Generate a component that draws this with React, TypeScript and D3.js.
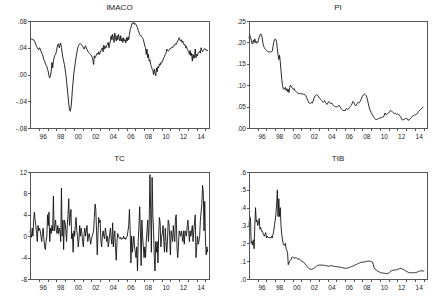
import React from "react";
import * as d3 from "d3";

// Monthly observations starting 1995M1
const startYear = 1995;
const yearTicks = d3.range(1996, 2016);
const labelYears = [1996, 1998, 2000, 2002, 2004, 2006, 2008, 2010, 2012, 2014];
const labelTexts = ["96", "98", "00", "02", "04", "06", "08", "10", "12", "14"];

const imaco = [
  0.053, 0.054, 0.053, 0.052, 0.053, 0.052, 0.050, 0.048, 0.045, 0.042, 0.040, 0.038,
  0.037, 0.040, 0.038, 0.035, 0.032, 0.030, 0.026, 0.022, 0.020, 0.016, 0.014, 0.012,
  0.008, 0.004, -0.002, -0.005, -0.002, 0.005, 0.018, 0.010, 0.020, 0.025, 0.029, 0.030,
  0.034, 0.040, 0.045, 0.046, 0.040, 0.044, 0.047, 0.040, 0.032, 0.025, 0.020, 0.015,
  0.008, 0.000, -0.010, -0.020, -0.032, -0.044, -0.052, -0.055, -0.050, -0.038, -0.022, -0.010,
  0.002, 0.010, 0.018, 0.026, 0.032, 0.038, 0.042, 0.045, 0.046, 0.046, 0.045, 0.044,
  0.042, 0.040, 0.038, 0.041, 0.043, 0.040, 0.037, 0.035, 0.033, 0.032, 0.031, 0.030,
  0.028, 0.026, 0.022, 0.015, 0.028, 0.025, 0.027, 0.030, 0.032, 0.030, 0.034, 0.030,
  0.033, 0.036, 0.038, 0.040, 0.034, 0.044, 0.038, 0.042, 0.040, 0.044, 0.045, 0.048,
  0.040, 0.046, 0.050, 0.058, 0.052, 0.060, 0.054, 0.048, 0.062, 0.055, 0.050, 0.058,
  0.052, 0.060, 0.055, 0.050, 0.058, 0.050, 0.054, 0.048, 0.055, 0.050, 0.052, 0.047,
  0.055, 0.050, 0.056, 0.052, 0.060, 0.067, 0.070, 0.074, 0.077, 0.076, 0.078, 0.075,
  0.076, 0.075, 0.072, 0.070, 0.066, 0.063, 0.060, 0.058, 0.058, 0.056, 0.055, 0.052,
  0.048, 0.042, 0.040, 0.030, 0.038, 0.025, 0.030, 0.020, 0.022, 0.015, 0.012, 0.008,
  0.006, 0.000, 0.008, 0.002, -0.002, 0.010, 0.004, 0.012, 0.010, 0.016, 0.014, 0.018,
  0.017, 0.020, 0.022, 0.025, 0.027, 0.030, 0.032, 0.038, 0.036, 0.035, 0.036, 0.038,
  0.038, 0.040, 0.041, 0.040, 0.042, 0.044, 0.044, 0.046, 0.045, 0.048, 0.050, 0.052,
  0.055, 0.052, 0.050, 0.052, 0.048, 0.050, 0.046, 0.044, 0.045, 0.040, 0.042, 0.038,
  0.036, 0.034, 0.030, 0.036, 0.028, 0.032, 0.020, 0.030, 0.024, 0.026, 0.038, 0.025,
  0.030, 0.028, 0.032, 0.033, 0.035, 0.032, 0.040, 0.036, 0.034, 0.036, 0.038, 0.039,
  0.038, 0.036, 0.037, 0.035,
];

const pi = [
  0.210, 0.218, 0.212, 0.205, 0.198, 0.196, 0.205, 0.200, 0.208, 0.200, 0.198, 0.202,
  0.200, 0.205, 0.212, 0.216, 0.220, 0.218, 0.212, 0.200, 0.192, 0.188, 0.185, 0.183,
  0.181, 0.180, 0.179, 0.178, 0.178, 0.177, 0.178, 0.178, 0.180, 0.190, 0.200, 0.206,
  0.208, 0.207, 0.200, 0.185, 0.170, 0.160, 0.170, 0.155, 0.135, 0.115, 0.100, 0.092,
  0.090, 0.093, 0.095, 0.088, 0.092, 0.085, 0.090, 0.083, 0.095, 0.100, 0.098, 0.095,
  0.093, 0.090, 0.092, 0.088, 0.086, 0.085, 0.083, 0.082, 0.080, 0.081, 0.080, 0.080,
  0.080, 0.079, 0.080, 0.079, 0.078, 0.078, 0.076, 0.072, 0.068, 0.064, 0.060, 0.058,
  0.057, 0.058, 0.060, 0.058, 0.062, 0.068, 0.072, 0.075, 0.076, 0.078, 0.077, 0.075,
  0.072, 0.070, 0.068, 0.066, 0.064, 0.062, 0.060, 0.062, 0.064, 0.060, 0.058, 0.055,
  0.056, 0.060, 0.062, 0.060, 0.058, 0.056, 0.058, 0.055, 0.053, 0.052, 0.050, 0.050,
  0.050, 0.049, 0.050, 0.052, 0.053, 0.050, 0.047, 0.045, 0.043, 0.042, 0.040, 0.042,
  0.040, 0.044, 0.046, 0.044, 0.043, 0.045, 0.048, 0.050, 0.052, 0.055, 0.058, 0.062,
  0.060, 0.056, 0.053, 0.052, 0.055, 0.058, 0.060, 0.058, 0.060, 0.063, 0.066, 0.070,
  0.074, 0.077, 0.078, 0.079, 0.078, 0.076, 0.072, 0.065, 0.058, 0.050, 0.044, 0.040,
  0.036, 0.033, 0.030, 0.027, 0.024, 0.022, 0.020, 0.020, 0.020, 0.021, 0.022, 0.023,
  0.023, 0.024, 0.024, 0.025, 0.025, 0.026, 0.030, 0.035, 0.032, 0.031, 0.033, 0.034,
  0.035, 0.037, 0.040, 0.041, 0.040, 0.038, 0.036, 0.035, 0.034, 0.035, 0.033, 0.032,
  0.033, 0.032, 0.031, 0.030, 0.027, 0.024, 0.020, 0.019, 0.020, 0.019, 0.021, 0.022,
  0.023, 0.022, 0.021, 0.018, 0.019, 0.020, 0.022, 0.024, 0.026, 0.028, 0.029, 0.030,
  0.030, 0.031, 0.032, 0.033, 0.035, 0.038, 0.040, 0.042, 0.043, 0.045, 0.047, 0.048,
  0.049,
];

const tc = [
  1.0, 0.3, -0.2, 1.5, 0.0, 3.0, 4.5, 3.0, 2.0, 0.5, -1.0, 2.0,
  1.0, 1.5, 1.0, 0.0, -1.0, 0.5, 1.5, -0.5, -2.0, -2.5, -1.0, 0.0,
  4.0, 2.0, 4.5, -1.0, 1.5, 0.5, 2.0, 1.0, 7.5, 1.0, 2.0, 3.0,
  1.0, 0.5, 2.0, 0.5, 1.5, 1.0, -1.0, 9.0, 0.0, 3.0, -2.5, 3.0,
  2.5, 1.0, -1.0, 2.0, 4.0, 7.0, 2.0, 3.5, 5.0, -0.5, 0.5, -3.0,
  1.0, 0.0, 2.0, 3.5, 1.0, 0.0, -2.0, -0.5, 2.0, 0.0, 1.5, 0.5,
  -1.0, -2.0, 0.5, 1.5, 0.0, 1.0, 2.0, -1.0, 0.0, 0.5, -0.5, -1.5,
  -0.5, 0.0, 0.5, 1.0, 3.5, 6.0, 5.0, 1.0, -3.5, 0.5, 3.5, 2.5,
  3.0, -1.0, -2.0, 0.0, 1.0, 0.0, -0.5, 1.5, 0.5, -1.0, 0.0, -2.0,
  -1.0, 0.5, 1.5, -0.5, -1.5, 2.5, -2.0, 0.0, 1.0, -2.5, -4.5, -1.0,
  0.5, 0.0, -0.3, -0.5, -0.2, -0.6, -0.4, -0.5, 0.0, -0.5, -0.3, -0.6,
  -0.2, 0.0, 1.0, 2.0, 5.0, 1.0, -5.0, 0.0, -3.0, -1.5, 0.0, -2.0,
  -3.0, -4.0, -2.0, -6.5, -1.0, 2.0, 5.5, 1.0, -5.5, 3.0, 0.0, -2.0,
  -4.0, -2.0, -4.0, -1.0, 1.0, 3.0, -1.0, 2.0, 11.5, 5.0, -3.0, 11.0,
  4.0, 1.0, -4.0, -6.5, -1.0, -3.0, -1.0, -5.0, 0.0, 3.5, 2.5, -2.0,
  0.0, 0.5, 2.0, -1.0, -3.0, 1.5, -1.0, -3.0, -1.0, 3.0, 2.5, 0.0,
  -3.5, 1.0, 0.0, -1.0, 2.0, 0.0, -1.0, 3.5, 4.0, -2.0, -4.0, -2.0,
  1.0, 0.5, 0.0, 1.0, 0.0, -1.0, 1.0, -1.5, 1.0, 0.5, 0.0, 2.0,
  3.0, 1.0, -1.0, 1.0, 0.0, 1.0, 2.0, -1.0, 1.0, 2.5, 4.0, -4.0,
  -2.0, 0.0, -1.5, -1.0, 0.0, 3.0, 4.5, 6.0, 9.5, 8.0, 1.0, 6.5,
  -1.0, -3.5, -2.0, -3.0,
];

const tib = [
  0.30, 0.35, 0.34, 0.20, 0.21, 0.19, 0.22, 0.17, 0.30, 0.40, 0.32, 0.33,
  0.30, 0.31, 0.34, 0.28, 0.29, 0.27, 0.27, 0.26, 0.25, 0.24, 0.25, 0.26,
  0.23, 0.24, 0.235, 0.23, 0.235, 0.23, 0.23, 0.24, 0.23, 0.25, 0.27, 0.30,
  0.33, 0.36, 0.42, 0.50, 0.35, 0.45, 0.35, 0.40, 0.30, 0.25, 0.22, 0.20,
  0.19, 0.19, 0.20, 0.17, 0.16, 0.15, 0.08, 0.09, 0.10, 0.105, 0.11, 0.12,
  0.125, 0.12, 0.115, 0.118, 0.12, 0.12, 0.115, 0.11, 0.112, 0.115, 0.11, 0.105,
  0.10, 0.10, 0.098, 0.095, 0.09, 0.085, 0.08, 0.075, 0.07, 0.065, 0.06, 0.058,
  0.055, 0.055, 0.054, 0.056, 0.058, 0.06, 0.062, 0.066, 0.07, 0.073, 0.075, 0.077,
  0.078, 0.078, 0.078, 0.078, 0.077, 0.078, 0.078, 0.077, 0.076, 0.075, 0.075, 0.074,
  0.073, 0.072, 0.072, 0.073, 0.074, 0.075, 0.074, 0.073, 0.072, 0.071, 0.070, 0.070,
  0.070, 0.069, 0.068, 0.068, 0.067, 0.066, 0.066, 0.065, 0.064, 0.063, 0.062, 0.061,
  0.060, 0.060, 0.060, 0.061, 0.062, 0.063, 0.064, 0.066, 0.068, 0.070, 0.072, 0.073,
  0.075, 0.077, 0.078, 0.080, 0.082, 0.084, 0.086, 0.088, 0.090, 0.092, 0.093, 0.094,
  0.094, 0.095, 0.095, 0.096, 0.097, 0.098, 0.099, 0.100, 0.100, 0.100, 0.100, 0.099,
  0.098, 0.096, 0.094, 0.080, 0.065, 0.058, 0.052, 0.050, 0.047, 0.044, 0.042, 0.040,
  0.038, 0.036, 0.035, 0.034, 0.033, 0.033, 0.032, 0.032, 0.031, 0.031, 0.031, 0.031,
  0.033, 0.036, 0.040, 0.044, 0.046, 0.048, 0.049, 0.050, 0.050, 0.050, 0.051, 0.052,
  0.054, 0.055, 0.056, 0.058, 0.060, 0.059, 0.058, 0.056, 0.055, 0.052, 0.050, 0.047,
  0.045, 0.042, 0.040, 0.038, 0.036, 0.035, 0.035, 0.035, 0.035, 0.035, 0.035, 0.035,
  0.035, 0.036, 0.037, 0.038, 0.040, 0.042, 0.044, 0.045, 0.046, 0.046, 0.045, 0.045,
  0.045, 0.046,
];

const imacoTicks = [0.08, 0.04, 0.0, -0.04, -0.08];
const imacoLabels = [".08", ".04", ".00", "-.04", "-.08"];
const piTicks = [0.25, 0.2, 0.15, 0.1, 0.05, 0.0];
const piLabels = [".25", ".20", ".15", ".10", ".05", ".00"];
const tcTicks = [12, 8, 4, 0, -4, -8];
const tcLabels = ["12", "8", "4", "0", "-4", "-8"];
const tibTicks = [0.6, 0.5, 0.4, 0.3, 0.2, 0.1, 0.0];
const tibLabels = [".6", ".5", ".4", ".3", ".2", ".1", ".0"];

const FONT = "'Liberation Sans', Arial, sans-serif";

type PanelProps = {
  title: string;
  values: number[];
  ticks: number[];
  labels: string[];
  left: number;
  top: number;
  width: number;
  height: number;
};

function Panel({ title, values, ticks, labels, left, top, width, height }: PanelProps) {
  const x = d3.scaleLinear().domain([startYear, 2015.4]).range([left, left + width]);
  const y = d3
    .scaleLinear()
    .domain([d3.min(ticks) as number, d3.max(ticks) as number])
    .range([top + height, top]);
  const line = d3
    .line<number>()
    .x((_, i) => x(startYear + i / 12))
    .y((d) => y(d));
  const bottom = top + height;
  return (
    <g>
      <text
        x={left + width / 2}
        y={top - 11}
        textAnchor="middle"
        fontFamily={FONT}
        fontSize={8}
        fill="#222"
      >
        {title}
      </text>
      <path d={line(values) || ""} fill="none" stroke="#111" strokeWidth={0.9} strokeLinejoin="round" />
      <rect x={left + 0.5} y={top + 0.5} width={width} height={height} fill="none" stroke="#555" strokeWidth={1} />
      {ticks.map((t, i) => (
        <g key={"y" + i}>
          <line x1={left - 2} x2={left + 0.5} y1={Math.round(y(t)) + 0.5} y2={Math.round(y(t)) + 0.5} stroke="#555" />
          <text
            x={left - 3}
            y={y(t) + 2.5}
            textAnchor="end"
            fontFamily={FONT}
            fontSize={6.5}
            fill="#222"
          >
            {labels[i]}
          </text>
        </g>
      ))}
      {yearTicks.map((yr) => (
        <line
          key={"t" + yr}
          x1={Math.round(x(yr)) + 0.5}
          x2={Math.round(x(yr)) + 0.5}
          y1={bottom + 0.5}
          y2={bottom + 3}
          stroke="#555"
        />
      ))}
      {labelYears.map((yr, i) => (
        <text
          key={"l" + yr}
          x={x(yr + 0.5)}
          y={bottom + 11}
          textAnchor="middle"
          fontFamily={FONT}
          fontSize={6.5}
          fill="#222"
        >
          {labelTexts[i]}
        </text>
      ))}
    </g>
  );
}

export default function App() {
  return (
    <svg
      width={445}
      height={298}
      style={{ position: "absolute", left: 0, top: 0, background: "#fff" }}
    >
      <rect x={0} y={0} width={445} height={298} fill="#fff" />
      <Panel title="IMACO" values={imaco} ticks={imacoTicks} labels={imacoLabels} left={30} top={21} width={179} height={107} />
      <Panel title="PI" values={pi} ticks={piTicks} labels={piLabels} left={249} top={21} width={178} height={107} />
      <Panel title="TC" values={tc} ticks={tcTicks} labels={tcLabels} left={30} top={172} width={179} height={107} />
      <Panel title="TIB" values={tib} ticks={tibTicks} labels={tibLabels} left={249} top={172} width={178} height={107} />
    </svg>
  );
}
